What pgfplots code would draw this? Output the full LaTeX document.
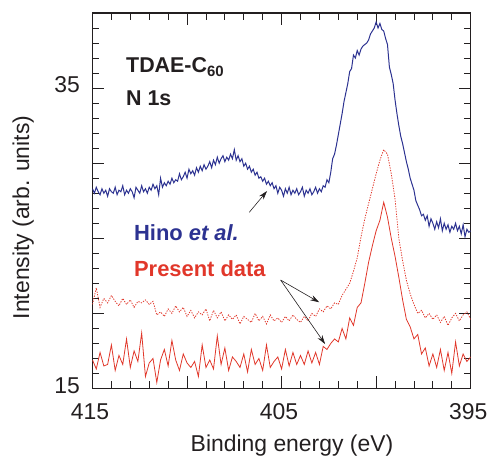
\documentclass[border=0pt]{standalone}
\usepackage{pgfplots}
\pgfplotsset{compat=1.18}
\usepackage{fontspec}
\setmainfont{Liberation Sans}
\usetikzlibrary{arrows.meta}
\definecolor{hino}{RGB}{44,50,145}
\definecolor{pres}{RGB}{225,55,42}
\definecolor{ink}{RGB}{35,31,32}

% Hino et al. (blue)
\pgfplotstableread{
x y
415.0 28.3
414.9 28.0
414.8 28.4
414.7 28.1
414.6 27.9
414.5 28.3
414.4 28.0
414.3 28.2
414.2 27.8
414.1 28.3
414.0 28.1
413.9 28.0
413.8 28.4
413.7 27.9
413.6 28.2
413.5 28.1
413.4 28.5
413.3 27.9
413.2 28.2
413.1 28.0
413.0 28.3
412.9 28.1
412.8 27.7
412.7 28.4
412.6 28.2
412.5 28.0
412.4 28.5
412.3 28.1
412.2 28.3
412.1 28.0
412.0 28.4
411.9 28.2
411.8 28.6
411.7 28.3
411.6 28.5
411.5 27.9
411.4 29.0
411.3 28.4
411.2 28.7
411.1 28.5
411.0 28.8
410.9 28.6
410.8 29.0
410.7 28.7
410.6 28.9
410.5 28.8
410.4 29.3
410.3 28.9
410.2 29.1
410.1 29.4
410.0 29.0
409.9 29.6
409.8 29.3
409.7 29.5
409.6 29.2
409.5 29.7
409.4 29.4
409.3 29.8
409.2 29.5
409.1 29.9
409.0 29.6
408.9 29.8
408.8 30.1
408.7 29.7
408.6 30.2
408.5 29.9
408.4 30.4
408.3 30.0
408.2 30.3
408.1 30.5
408.0 30.1
407.9 30.4
407.8 30.2
407.7 30.6
407.6 30.3
407.5 30.9
407.4 30.2
407.3 30.5
407.2 30.1
407.1 30.3
407.0 29.8
406.9 30.0
406.8 29.6
406.7 29.8
406.6 29.4
406.5 29.6
406.4 29.2
406.3 29.4
406.2 29.0
406.1 29.1
406.0 28.8
405.9 29.0
405.8 28.6
405.7 28.8
405.6 28.5
405.5 28.7
405.4 28.3
405.3 28.5
405.2 28.0
405.1 28.4
405.0 28.2
404.9 27.8
404.8 28.3
404.7 28.0
404.6 28.4
404.5 27.9
404.4 28.2
404.3 28.0
404.2 28.3
404.1 27.9
404.0 28.1
403.9 28.4
403.8 27.8
403.7 28.2
403.6 28.0
403.5 28.3
403.4 27.9
403.3 28.1
403.2 28.4
403.1 28.0
403.0 28.3
402.9 28.1
402.8 28.5
402.7 28.4
402.6 28.9
402.5 28.7
402.4 29.4
402.3 30.3
402.2 30.6
402.1 31.2
402.0 31.9
401.9 32.6
401.8 33.3
401.7 34.1
401.6 34.7
401.5 35.3
401.4 36.1
401.3 36.3
401.2 37.2
401.1 37.0
401.0 37.5
400.9 37.2
400.8 37.6
400.7 37.8
400.6 37.9
400.5 38.0
400.4 38.2
400.3 38.6
400.2 38.8
400.1 39.0
400.0 39.4
399.9 39.0
399.8 39.3
399.7 38.9
399.6 38.8
399.5 38.3
399.4 37.9
399.3 36.4
399.2 35.9
399.1 35.3
399.0 34.2
398.9 33.3
398.8 32.5
398.7 31.8
398.6 31.3
398.5 30.7
398.4 30.1
398.3 29.6
398.2 29.0
398.1 28.6
398.0 28.2
397.9 27.5
397.8 27.2
397.7 26.9
397.6 26.5
397.5 26.6
397.4 26.2
397.3 26.5
397.2 25.8
397.1 26.3
397.0 26.0
396.9 25.6
396.8 26.1
396.7 25.7
396.6 26.3
396.5 25.5
396.4 26.0
396.3 25.6
396.2 25.9
396.1 25.4
396.0 25.8
395.9 25.6
395.8 26.0
395.7 25.5
395.6 25.8
395.5 25.3
395.4 25.9
395.3 25.1
395.2 25.6
395.1 25.4
395.0 25.5
}\hinodata

% present data, upper (dotted)
\pgfplotstableread{
x y
415.0 20.6
414.8 21.7
414.6 20.4
414.4 21.0
414.2 20.7
414.0 21.2
413.8 20.8
413.6 20.5
413.4 21.0
413.2 20.6
413.0 20.9
412.8 20.4
412.6 20.8
412.4 20.7
412.2 20.9
412.0 20.6
411.8 20.8
411.6 19.9
411.4 20.1
411.2 19.8
411.0 20.3
410.8 20.0
410.6 20.5
410.4 20.1
410.2 20.4
410.0 19.8
409.8 20.2
409.6 19.7
409.4 20.1
409.2 19.9
409.0 20.3
408.8 19.5
408.6 20.2
408.4 19.7
408.2 20.1
408.0 19.5
407.8 19.9
407.6 19.6
407.4 19.9
407.2 19.3
407.0 19.8
406.8 19.6
406.6 19.4
406.4 20.0
406.2 19.5
406.0 19.8
405.8 19.3
405.6 19.9
405.4 19.5
405.2 19.7
405.0 19.4
404.8 19.8
404.6 19.5
404.4 19.9
404.2 19.6
404.0 19.4
403.8 19.8
403.6 19.5
403.4 20.0
403.2 19.8
403.0 20.3
402.8 20.1
402.6 20.5
402.4 20.3
402.2 20.7
402.0 20.6
401.8 21.2
401.6 21.6
401.4 22.0
401.2 22.8
401.0 23.7
400.8 25.1
400.6 26.3
400.4 27.3
400.2 28.3
400.0 29.3
399.8 30.2
399.6 30.9
399.4 30.6
399.2 29.3
399.0 27.6
398.8 25.0
398.6 23.5
398.4 22.2
398.2 21.3
398.0 20.6
397.8 20.0
397.6 20.2
397.4 19.7
397.2 20.0
397.0 19.6
396.8 19.9
396.6 19.4
396.4 19.8
396.2 19.2
396.0 19.7
395.8 20.0
395.6 19.5
395.4 19.9
395.2 20.1
395.0 19.6
}\presupper

% present data, lower (solid)
\pgfplotstableread{
x y
415.0 16.9
414.8 16.3
414.6 17.4
414.4 16.5
414.2 16.6
414.0 17.9
413.8 16.2
413.6 17.2
413.4 16.6
413.2 18.3
413.0 16.4
412.8 17.5
412.6 16.8
412.4 18.7
412.2 15.8
412.0 16.7
411.8 17.0
411.6 15.4
411.4 16.9
411.2 17.6
411.0 16.5
410.8 18.2
410.6 16.9
410.4 16.2
410.2 17.3
410.0 16.7
409.8 16.4
409.6 16.8
409.4 15.8
409.2 17.9
409.0 16.4
408.8 16.9
408.6 16.3
408.4 18.5
408.2 16.6
408.0 17.7
407.8 16.2
407.6 17.1
407.4 16.8
407.2 16.4
407.0 17.3
406.8 16.1
406.6 17.6
406.4 16.6
406.2 17.0
406.0 16.2
405.8 17.9
405.6 16.4
405.4 16.8
405.2 17.1
405.0 16.3
404.8 17.6
404.6 16.5
404.4 17.4
404.2 16.6
404.0 17.2
403.8 16.6
403.6 17.5
403.4 16.7
403.2 17.4
403.0 16.6
402.8 17.8
402.6 17.6
402.4 18.0
402.2 18.3
402.0 18.1
401.8 19.0
401.6 18.3
401.4 19.7
401.2 19.2
401.0 20.4
400.8 20.7
400.6 22.0
400.4 23.4
400.2 24.5
400.0 25.5
399.8 26.2
399.6 27.4
399.4 26.4
399.2 25.0
399.0 23.8
398.8 22.4
398.6 20.9
398.4 19.6
398.2 19.1
398.0 18.3
397.8 18.6
397.6 17.3
397.4 17.7
397.2 16.5
397.0 17.3
396.8 16.4
396.6 17.6
396.4 16.2
396.2 17.4
396.0 16.0
395.8 18.1
395.6 16.5
395.4 17.3
395.2 16.8
395.0 17.1
}\preslower

\begin{document}
\begin{tikzpicture}
\begin{axis}[
    at={(92.5bp,68.5bp)}, anchor=south west,
    scale only axis, width=378.2bp, height=375.5bp,
    x dir=reverse,
    xmin=395, xmax=415, ymin=15, ymax=40,
    xtick={395,400,405,410,415}, xticklabels={395,,405,,415},
    ytick={15,20,25,30,35,40}, yticklabels={15,,,,35,},
    minor x tick num=4, minor y tick num=4,
    tick align=inside,
    major tick length=12bp, minor tick length=7bp,
    axis line style={ink, line width=1.3pt},
    every tick/.style={ink, line width=0.9pt},
    /pgf/number format/assume math mode=true,
    ticklabel style={font=\fontsize{23}{23}\selectfont, text=ink, inner sep=0pt},
    xticklabel style={anchor=base, yshift=-30.5bp, xshift=-2.5bp},
    yticklabel style={anchor=east, xshift=-12.5bp, yshift=3bp},
    clip=true]

    \addplot[hino, line width=1pt, mark=none] table {\hinodata};
    \addplot[pres, line width=0.8pt, mark=none,
             dash pattern=on 1.3pt off 1.3pt] table {\presupper};
    \addplot[pres, line width=0.8pt, mark=none] table {\preslower};

    \node[anchor=base west, inner sep=0, text=ink,
          font=\fontsize{21.5}{21.5}\selectfont\bfseries]
        at (axis cs:413.23,36.05)
        {TDAE-C\raisebox{-4.3bp}{\fontsize{15}{15}\selectfont 60}};
    \node[anchor=base west, inner sep=0, text=ink,
          font=\fontsize{21.5}{21.5}\selectfont\bfseries]
        at (axis cs:413.23,33.87) {N 1s};
    \node[anchor=base west, inner sep=0, text=hino,
          font=\fontsize{22}{22}\selectfont\bfseries]
        at (axis cs:412.81,24.84) {Hino \textit{et al.}};
    \node[anchor=base west, inner sep=0, text=pres,
          font=\fontsize{22}{22}\selectfont\bfseries]
        at (axis cs:412.81,22.44) {Present data};

    \draw[ink, line width=0.6pt, -{Stealth[length=9bp,width=5.5bp]}]
        (axis cs:406.71,26.73) -- (axis cs:405.77,28.15);
    \draw[ink, line width=0.6pt, -{Stealth[length=9bp,width=5.5bp]}]
        (axis cs:405.05,22.22) -- (axis cs:403.01,20.74);
    \draw[ink, line width=0.6pt, -{Stealth[length=9bp,width=5.5bp]}]
        (axis cs:405.05,22.22) -- (axis cs:402.70,17.96);
\end{axis}

\node[anchor=base, rotate=90, inner sep=0, text=ink,
      font=\fontsize{23}{23}\selectfont] at (29bp,239.5bp)
    {Intensity (arb. units)};
\node[anchor=base, inner sep=0, text=ink,
      font=\fontsize{23}{23}\selectfont] at (292bp,5.5bp)
    {Binding energy (eV)};

\pgfresetboundingbox
\useasboundingbox (0,0) rectangle (490bp,457bp);
\end{tikzpicture}
\end{document}
